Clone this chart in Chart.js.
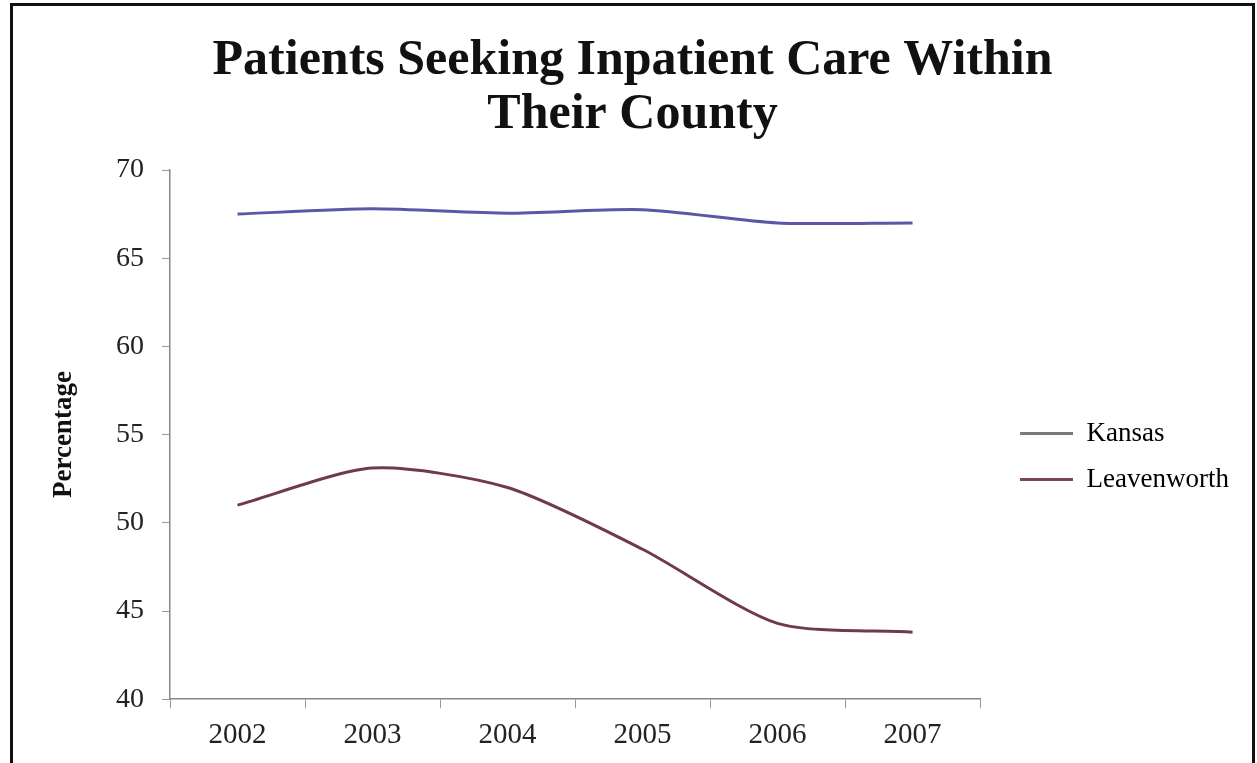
<!DOCTYPE html>
<html lang="en">
<head>
  <meta charset="UTF-8">
  <title>Patients Seeking Inpatient Care Within Their County</title>
  <script src="https://cdn.jsdelivr.net/npm/chart.js@4.4.1/dist/chart.umd.min.js"></script>
  <style>
    body { margin: 0; background: #fff; }
    .frame {
      position: absolute; left: 10px; top: 3px;
      width: 1239px; height: 757px;
      border: 3px solid #111; border-bottom: 1px solid #999;
      background: #fff;
    }
    canvas { display: block; }
  </style>
</head>
<body>
  <div class="frame">
    <canvas id="chart" width="1239" height="757"></canvas>
  </div>

  <script>
    const years = ["2002", "2003", "2004", "2005", "2006", "2007"]
    const kansas = [67.5, 67.8, 67.55, 67.75, 67.0, 67.0]
    const leavenworth = [51.0, 53.1, 52.0, 48.5, 44.3, 43.8]
    const seriesNames = ["Kansas", "Leavenworth"]
    const legendColors = ["#7a7a7a", "#7d4656"]

    const serif = "'Liberation Serif', 'DejaVu Serif', serif"

    // moves the legend next to the plot like in the original,
    // and centers the title on the whole frame
    const legendSpot = {
      id: "legendSpot",
      afterLayout(chart) {
        const lg = chart.legend
        const w = lg.right - lg.left
        const h = lg.bottom - lg.top
        lg.left = 1007 - lg.options.labels.padding
        lg.right = lg.left + w
        lg.top = 395
        lg.bottom = lg.top + h

        const t = chart.titleBlock
        t.left = 0
        t.right = chart.width
      }
    }

    new Chart(document.getElementById("chart"), {
      type: "line",
      data: {
        labels: years,
        datasets: [{
          label: seriesNames[0],
          data: kansas,
          borderColor: "#5a58a6",
          borderWidth: 3,
          pointRadius: 0,
          tension: 0.25
        }, {
          label: seriesNames[1],
          data: leavenworth,
          borderColor: "#6e3a4c",
          borderWidth: 3,
          pointRadius: 0,
          tension: 0.25
        }]
      },
      options: {
        responsive: false,
        animation: false,
        layout: { padding: { top: 0, right: 34, bottom: 0, left: 0 } },
        plugins: {
          title: {
            display: true,
            text: ["Patients Seeking Inpatient Care Within", "Their County"],
            color: "#111",
            font: { family: serif, size: 50, weight: "bold", lineHeight: 1.08 },
            padding: { top: 28, bottom: 28 }
          },
          legend: {
            position: "right",
            align: "start",
            labels: {
              boxWidth: 53,
              boxHeight: 3,
              padding: 19,
              color: "#222",
              font: { family: serif, size: 27 },
              generateLabels(chart) {
                return chart.data.datasets.map((ds, i) => ({
                  text: ds.label,
                  fillStyle: legendColors[i],
                  strokeStyle: legendColors[i],
                  lineWidth: 0,
                  datasetIndex: i
                }))
              }
            }
          },
          tooltip: { enabled: false }
        },
        scales: {
          x: {
            offset: true,
            grid: { offset: true, drawOnChartArea: false, drawTicks: true, tickLength: 9, color: "#999" },
            border: { color: "#888", width: 1.5 },
            ticks: { color: "#222", padding: 10, font: { family: serif, size: 29 } }
          },
          y: {
            min: 40,
            max: 70,
            ticks: { stepSize: 5, color: "#222", padding: 18, font: { family: serif, size: 28 } },
            grid: { drawOnChartArea: false, drawTicks: true, tickLength: 8, color: "#999" },
            border: { color: "#888", width: 1.5 },
            title: {
              display: true,
              text: "Percentage",
              color: "#111",
              font: { family: serif, size: 27, weight: "bold" },
              padding: { top: 35, bottom: 0 }
            },
            afterFit(scale) { scale.width = 157 }
          }
        }
      },
      plugins: [legendSpot]
    })
  </script>
</body>
</html>
